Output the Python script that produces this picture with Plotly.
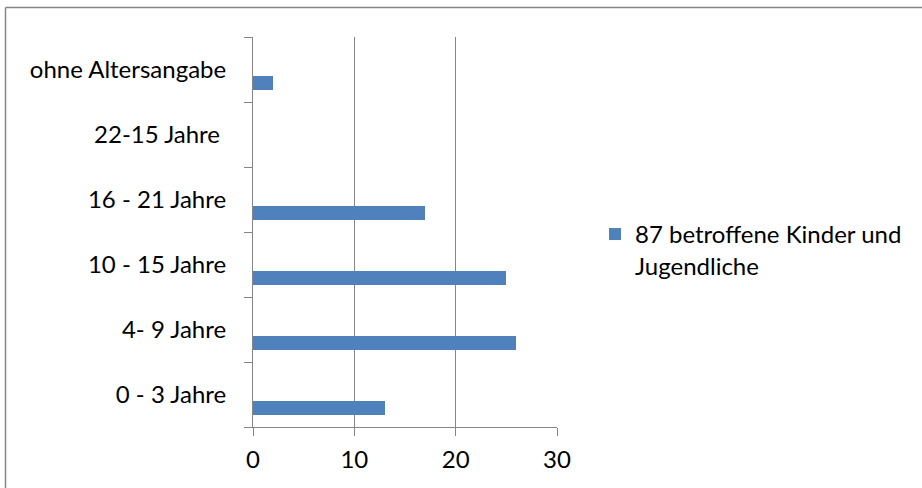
import plotly.graph_objects as go

categories = ["0 - 3 Jahre", "4- 9 Jahre", "10 - 15 Jahre", "16 - 21 Jahre", "22-15 Jahre ", "ohne Altersangabe"]
values = [13, 26, 25, 17, 0, 2]
series_name = "87 betroffene Kinder und<br>Jugendliche"
x_ticks = [0, 10, 20, 30]

FONT = "Lato"
FS = 24
GRID = "#868686"
BLUE = "#4f81bd"

fig = go.Figure()
fig.add_trace(go.Bar(
    y=categories, x=values, orientation="h", name=series_name,
    marker=dict(color=BLUE, line=dict(width=0)),
    width=0.215, offset=-0.315,
))

L, T, W, H = 253, 37, 304, 390
fig.update_layout(
    width=922, height=488,
    margin=dict(l=L, r=922 - L - W, t=T, b=488 - T - H, autoexpand=False),
    paper_bgcolor="white", plot_bgcolor="white",
    font=dict(family=FONT, size=FS, color="black"),
    showlegend=True,
    legend=dict(x=1.125, y=0.454, xanchor="left", yanchor="middle", valign="top",
                font=dict(family=FONT, size=FS, color="black"),
                itemwidth=30, tracegroupgap=0, bgcolor="rgba(0,0,0,0)"),
    bargap=0,
)
fig.update_xaxes(
    range=[0, 30], tickvals=x_ticks, ticktext=[str(v) for v in x_ticks],
    showgrid=True, gridcolor=GRID, gridwidth=1,
    showline=True, linecolor=GRID, linewidth=1,
    ticks="outside", ticklen=8, tickcolor=GRID, tickwidth=1,
    ticklabelstandoff=3,
    zeroline=False, fixedrange=True,
    tickfont=dict(family=FONT, size=FS, color="black"),
)
fig.update_yaxes(
    type="category", categoryorder="array", categoryarray=categories,
    range=[-0.5, 5.5],
    showgrid=False, showline=True, linecolor=GRID, linewidth=1,
    ticks="outside", ticklen=8, tickcolor=GRID, tickwidth=1,
    tickson="boundaries", ticklabelstandoff=21,
    tickfont=dict(family=FONT, size=FS, color="black"),
    fixedrange=True,
)

# outer chart border (top and left edges only visible)
bx = (5.5 - L) / W
by = (T + H - 7.5) / H
fig.add_shape(type="line", xref="paper", yref="paper", x0=bx, x1=(922 - L) / W, y0=by, y1=by,
              line=dict(color=GRID, width=1.5))
fig.add_shape(type="line", xref="paper", yref="paper", x0=bx, x1=bx, y0=by, y1=(T + H - 488) / H,
              line=dict(color=GRID, width=1.5))

fig.write_html("out.html")
